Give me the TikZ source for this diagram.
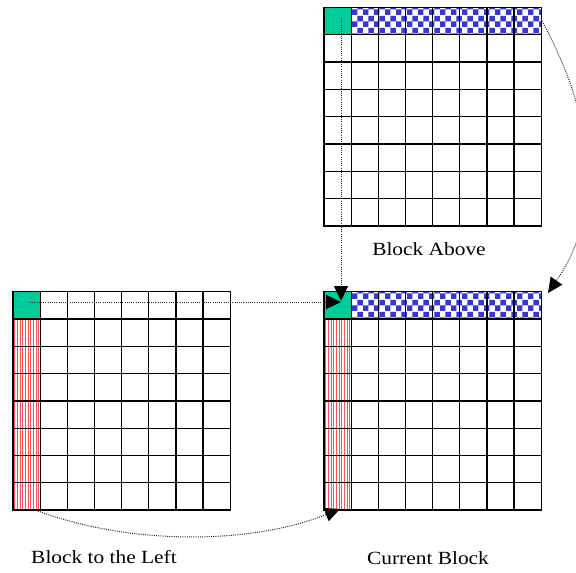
\documentclass[tikz,border=0pt]{standalone}
\usepackage{fontspec}
\setmainfont{Liberation Serif}[FakeStretch=1.15]
\usetikzlibrary{patterns,arrows.meta}
\definecolor{cellgreen}{RGB}{0,204,153}
\definecolor{checkblue}{RGB}{55,55,210}
\definecolor{hatchred}{RGB}{255,80,80}
\definecolor{dotgray}{RGB}{40,40,40}
\newcommand\blockgrid[2]{%
  \foreach \i in {0,...,8}{%
    \draw[gridline] ({#1+\i*27.15},#2) -- ({#1+\i*27.15},{#2+8*27.3});
    \draw[gridline] (#1,{#2+\i*27.3}) -- ({#1+8*27.15},{#2+\i*27.3});
  }}
\newcommand\greencell[2]{%
  \fill[cellgreen] (#1,#2) rectangle ({#1+27.15},{#2+27.3});}
\newcommand\checkrow[2]{%
  \fill[white] ({#1+27.15},#2) rectangle ({#1+8*27.15},{#2+27.3});
  \fill[pattern=checkerboard, pattern color=checkblue] ({#1+27.15},#2) rectangle ({#1+8*27.15},{#2+27.3});}
\newcommand\redcol[2]{%
  \foreach \k in {0,...,9}{%
    \draw[hatchline] ({#1+1.6+\k*2.65},{#2+27.3}) -- ({#1+1.6+\k*2.65},{#2+8*27.3});
  }}
\begin{document}
\begin{tikzpicture}[x=1pt,y=-1pt,
  gridline/.style={draw=black, line width=1.3pt, line cap=rect},
  hatchline/.style={draw=hatchred, line width=0.6pt},
  dotarrow/.style={draw=dotgray, line width=1pt, dash pattern=on 1pt off 1.2pt,
     -{Triangle[length=15pt,width=14pt,fill=black,color=black]}},
  label/.style={anchor=base, inner sep=0pt, font=\fontsize{18.6}{22}\selectfont}]
\useasboundingbox (0,0) rectangle (576,573);
\clip (0,0) rectangle (576,573);
% Block Above
\greencell{324}{7.5}
\checkrow{324}{7.5}
\blockgrid{324}{7.5}
% Current Block
\greencell{324}{291.7}
\checkrow{324}{291.7}
\redcol{324}{291.7}
\blockgrid{324}{291.7}
% Block to the Left
\greencell{13}{291.7}
\redcol{13}{291.7}
\blockgrid{13}{291.7}
% labels
\node[label] (labove) at (429,255) {Block Above};
\node[label] (lleft) at (104,563) {Block to the Left};
\node[label] (lcur) at (428,564) {Current Block};
% arrow end points
\coordinate (lgreen) at (30,302);
\coordinate (cgreenL) at (341,302);
\coordinate (agreen) at (341,18);
\coordinate (cgreenT) at (341,301);
\coordinate (atr) at (542,21);
\coordinate (ctr) at (548,293);
\coordinate (lbl) at (38,511);
\coordinate (cbl) at (340,509);
% arrows
\draw[dotarrow] (lgreen) -- (cgreenL);
\draw[dotarrow] (agreen) -- (cgreenT);
\draw[dotarrow] (atr) .. controls (585,100) and (612,200) .. (ctr);
\draw[dotarrow] (lbl) .. controls (130,545) and (250,545) .. (cbl);
\end{tikzpicture}
\end{document}
